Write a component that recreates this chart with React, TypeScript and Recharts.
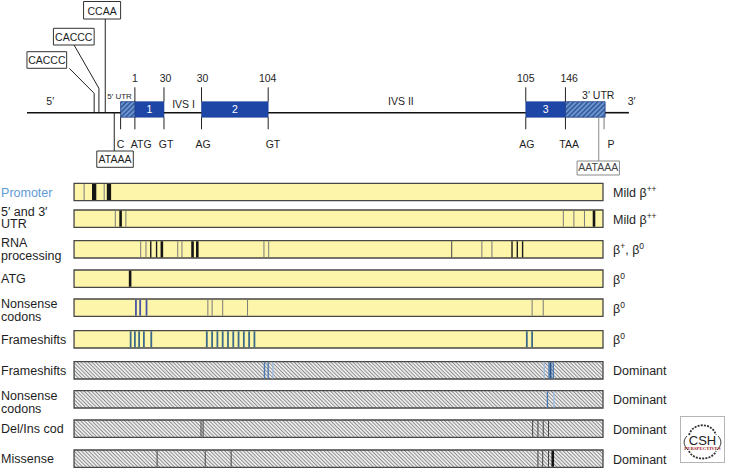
import React from 'react';
import { ComposedChart, XAxis, YAxis, ReferenceArea, ReferenceLine, ReferenceDot } from 'recharts';

// positions are in % of the gene span: 0 = left end of the bars, 100 = right end
const backbone = [[-8.9, 8.8], [17.0, 24.1], [36.7, 85.4], [100.4, 104.9]];
const exons = [
  { name: '1', from: 11.5, to: 17.0 },
  { name: '2', from: 24.1, to: 36.7 },
  { name: '3', from: 85.4, to: 92.9 },
];
const utrs = [
  { name: '5′ UTR', from: 8.8, to: 11.5, labelAt: 8.6, size: 8 },
  { name: '3′ UTR', from: 92.9, to: 100.4, labelAt: 99.1, size: 10.5 },
];
const codonTicks = [
  { pos: 8.8, top: '', topAt: 8.8, bottom: 'C', bottomAt: 8.8 },
  { pos: 11.5, top: '1', topAt: 11.5, bottom: 'ATG', bottomAt: 12.7 },
  { pos: 17.0, top: '30', topAt: 17.3, bottom: 'GT', bottomAt: 17.4 },
  { pos: 24.1, top: '30', topAt: 24.3, bottom: 'AG', bottomAt: 24.4 },
  { pos: 36.7, top: '104', topAt: 36.6, bottom: 'GT', bottomAt: 37.6 },
  { pos: 85.4, top: '105', topAt: 85.4, bottom: 'AG', bottomAt: 85.6 },
  { pos: 92.9, top: '146', topAt: 93.6, bottom: 'TAA', bottomAt: 93.6 },
  { pos: 100.2, top: '', topAt: 100.2, bottom: 'P', bottomAt: 101.5 },
];
const regionLabels = [
  { text: '5′', at: -4.5 },
  { text: 'IVS I', at: 20.7 },
  { text: 'IVS II', at: 61.8 },
  { text: '3′', at: 105.4 },
];
const motifs = [
  { text: 'CCAA', from: 1.8, to: 8.8, top: 1.5, bottom: 19, link: [[5.9, 19], [5.9, 112.7]] },
  { text: 'CACCC', from: -3.9, to: 3.8, top: 28.3, bottom: 45, link: [[0, 45], [4.7, 88.3], [4.7, 112.7]] },
  { text: 'CACCC', from: -8.9, to: -1.4, top: 51.7, bottom: 68.3, link: [[-0.9, 68.3], [3.8, 93.3], [3.8, 112.7]] },
  { text: 'ATAAA', from: 4.3, to: 11.2, top: 151, bottom: 167.3, link: [[7.6, 112.7], [7.6, 151]] },
  { text: 'AATAAA', from: 95.1, to: 103.1, top: 161, bottom: 175, link: [[99.2, 117], [99.2, 161]] },
];

const rowLabels = [
  ['Promoter'], ['5′ and 3′', 'UTR'], ['RNA', 'processing'], ['ATG'], ['Nonsense', 'codons'],
  ['Frameshifts'], ['Frameshifts'], ['Nonsense', 'codons'], ['Del/Ins cod'], ['Missense'],
];
const phenotypes = [
  'Mild β^++', 'Mild β^++', 'β^+, β^0', 'β^0', 'β^0', 'β^0', 'Dominant', 'Dominant', 'Dominant', 'Dominant',
];
const rowKind = ['rec', 'rec', 'rec', 'rec', 'rec', 'rec', 'dom', 'dom', 'dom', 'dom'];

// [position, mutation class]
const promoterMut = [[1.9, 'g'], [3.8, 'K'], [5.7, 'g'], [6.6, 'K']];
const utrMut = [[7.8, 'g'], [8.8, 'm'], [9.8, 'g'], [92.5, 'g'], [94.5, 'g'], [96.5, 'g'], [98.3, 'm']];
const rnaMut = [
  [12.6, 'g'], [13.6, 'g'], [14.5, 'k'], [15.6, 'k'], [16.6, 'm'], [19.6, 'g'], [20.4, 'g'],
  [22.4, 'm'], [23.3, 'm'], [35.9, 'g'], [36.8, 'g'], [71.4, 'd'], [77.1, 'g'], [79.0, 'g'],
  [82.8, 'k'], [83.8, 'k'], [84.8, 'k'],
];
const atgMut = [[10.6, 'm']];
const nonsenseMut = [
  [11.7, 'b'], [12.5, 'b'], [13.7, 'b'], [25.3, 'g'], [26.1, 'g'], [28.1, 'g'], [32.8, 'g'],
  [86.6, 'g'], [88.7, 'g'],
];
const frameshiftMut = [
  [10.7, 't'], [11.5, 't'], [12.3, 't'], [13.2, 't'], [14.6, 't'],
  [25.1, 't'], [26.1, 't'], [27.1, 't'], [28.1, 't'], [29.1, 't'], [30.1, 't'], [31.1, 't'],
  [32.1, 't'], [33.1, 't'], [34.1, 't'], [85.6, 't'], [86.6, 't'],
];
const domFrameshiftMut = [
  [36.0, 'sb'], [36.7, 'sb'], [37.6, 'lb'], [88.9, 'lb'], [89.8, 'sb'], [90.1, 'db'], [90.6, 'sb'],
];
const domNonsenseMut = [[89.5, 'sb'], [90.7, 'lb']];
const delInsMut = [[24.0, 'd'], [24.4, 'd'], [86.7, 'd'], [87.7, 'd'], [88.7, 'd'], [89.7, 'd']];
const missenseMut = [[15.7, 'd'], [24.8, 'd'], [29.7, 'd'], [87.7, 'd'], [88.6, 'd'], [89.7, 'd'], [90.5, 'm']];

const rowMutations = [
  promoterMut, utrMut, rnaMut, atgMut, nonsenseMut, frameshiftMut,
  domFrameshiftMut, domNonsenseMut, delInsMut, missenseMut,
];

// layout
const rowTops = [183.3, 210, 240.7, 270, 299, 330.7, 361.7, 390.7, 420, 450];
const ROW_H = 17.3;
const twoLineShift = [0, 5.5, 6, 0, 9, 0, 0, 9, 0, 0];
const FONT = '"Liberation Sans", Arial, Helvetica, sans-serif';
const INK = '#1e1e1e';

const mutStyle: Record<string, { stroke: string; w: number }> = {
  g: { stroke: '#7a7a7a', w: 1 },
  k: { stroke: '#1a1a1a', w: 1.4 },
  m: { stroke: '#151515', w: 2.6 },
  K: { stroke: '#151515', w: 4.3 },
  b: { stroke: '#4a52a6', w: 1.8 },
  t: { stroke: '#3a6a8a', w: 1.8 },
  lb: { stroke: '#9dbde0', w: 1.3 },
  sb: { stroke: '#4a7ab3', w: 1.4 },
  db: { stroke: '#27558f', w: 1.8 },
  d: { stroke: '#454545', w: 1 },
};

const txt = (
  key: string, x: number, y: number,
  content: (cx: number) => React.ReactNode,
  props: Record<string, any> = {},
) => (
  <ReferenceDot
    key={key} x={x} y={y} r={1} ifOverflow="visible"
    fill="none" stroke="none"
    shape={(p: any) => (
      <text x={p.cx} y={p.cy} fontFamily={FONT} fontSize={12.5} fill={INK} {...props}>
        {content(p.cx)}
      </text>
    )}
  />
);

const renderPheno = (s: string) =>
  s.split(/(\^[+0]+)/).filter(Boolean).map((part, i) =>
    part.startsWith('^') ? (
      <tspan key={i} fontSize={8.5} dy={-5}>{part.slice(1)}</tspan>
    ) : (
      <tspan key={i} dy={i > 0 ? 5 : 0}>{part}</tspan>
    ),
  );

const seg = (key: string, x1: number, y1: number, x2: number, y2: number, stroke: string, w: number) => (
  <ReferenceLine key={key} segment={[{ x: x1, y: y1 }, { x: x2, y: y2 }]} stroke={stroke} strokeWidth={w} ifOverflow="visible" />
);

function Logo() {
  return (
    <svg width={45} height={47} style={{ position: 'absolute', left: 680, top: 416 }}>
      <rect x={0.5} y={0.5} width={44} height={46} fill="#fff" stroke="#b5b5b5" />
      <path d="M9 19 C 13 6, 32 6, 36 19" fill="none" stroke="#333" strokeWidth={1.8} strokeDasharray="2 1.2" />
      <path d="M9 35 C 13 45, 32 45, 36 35" fill="none" stroke="#333" strokeWidth={1.8} strokeDasharray="2 1.2" />
      <path d="M7 20 C 3 24, 3 29, 8 34" fill="none" stroke="#333" strokeWidth={1} />
      <path d="M38 20 C 42 24, 42 29, 37 34" fill="none" stroke="#333" strokeWidth={1} />
      <text x={22.5} y={28.5} textAnchor="middle" fontFamily={FONT} fontSize={13} fill="#222">CSH</text>
      <text x={22.5} y={34} textAnchor="middle" fontFamily="'Liberation Serif', serif" fontWeight="bold" fontSize={4.8} fill="#a3262a">PERSPECTIVES</text>
    </svg>
  );
}

export default function App() {
  return (
    <div style={{ position: 'absolute', left: 0, top: 0, width: 731, height: 468, background: '#fff' }}>
      <ComposedChart width={731} height={468} margin={{ top: 0, right: 0, bottom: 0, left: 0 }}>
        <defs>
          <pattern id="greyHatch" patternUnits="userSpaceOnUse" width={2.6} height={2.6} patternTransform="rotate(-45)">
            <rect width={2.6} height={2.6} fill="#ebebeb" />
            <line x1={1.3} y1={0} x2={1.3} y2={2.6} stroke="#8a8a8a" strokeWidth={0.9} />
          </pattern>
          <pattern id="blueHatch" patternUnits="userSpaceOnUse" width={3.4} height={3.4} patternTransform="rotate(45)">
            <rect width={3.4} height={3.4} fill="#6b98d0" />
            <line x1={1.7} y1={0} x2={1.7} y2={3.4} stroke="#1f3d86" strokeWidth={1.1} />
          </pattern>
        </defs>
        <XAxis type="number" dataKey="x" domain={[-14, 124.2]} hide allowDataOverflow />
        <YAxis type="number" dataKey="y" domain={[0, 468]} reversed hide allowDataOverflow />

        {/* rows */}
        {rowTops.map((top, i) => (
          <ReferenceArea
            key={`row${i}`} x1={0} x2={100} y1={top} y2={top + ROW_H}
            fill={rowKind[i] === 'rec' ? '#fdf5a9' : 'url(#greyHatch)'} fillOpacity={1}
            stroke="#474747" strokeWidth={1.3} ifOverflow="visible"
          />
        ))}

        {/* gene exons and UTRs */}
        {exons.map((e) => (
          <ReferenceArea key={`ex${e.name}`} x1={e.from} x2={e.to} y1={101.7} y2={117.2}
            fill="#1d46a6" fillOpacity={1} stroke="#183c90" strokeWidth={0.6} ifOverflow="visible" />
        ))}
        {utrs.map((u) => (
          <ReferenceArea key={`utr${u.name}`} x1={u.from} x2={u.to} y1={101.7} y2={117.2}
            fill="url(#blueHatch)" fillOpacity={1} stroke="#1f3d86" strokeWidth={0.8} ifOverflow="visible" />
        ))}
        {motifs.map((m, i) => (
          <ReferenceArea key={`mbox${i}`} x1={m.from} x2={m.to} y1={m.top} y2={m.bottom}
            fill="#fff" fillOpacity={1} stroke={m.text === 'AATAAA' ? '#8a8a8a' : '#333'} strokeWidth={1}
            ifOverflow="visible" />
        ))}

        {/* backbone */}
        {backbone.map(([a, b], i) => seg(`bb${i}`, a, 112.7, b, 112.7, '#111', 1.6))}
        {codonTicks.map((t, i) => [
          t.top ? seg(`tt${i}`, t.pos, 87.3, t.pos, 101.7, '#222', 1) : null,
          seg(`tb${i}`, t.pos, 117.2, t.pos, 129.3, t.bottom === 'P' ? '#777' : '#222', 1),
        ])}
        {motifs.map((m, i) =>
          m.link.slice(1).map((pt, j) =>
            seg(`ml${i}-${j}`, m.link[j][0], m.link[j][1], pt[0], pt[1], m.text === 'AATAAA' ? '#8a8a8a' : '#222', 1),
          ),
        )}

        {/* mutations */}
        {rowMutations.map((muts, i) =>
          muts.map(([pos, cls], j) => {
            const st = mutStyle[cls as string];
            return seg(`mu${i}-${j}`, pos as number, rowTops[i] + 0.6, pos as number, rowTops[i] + ROW_H - 0.6, st.stroke, st.w);
          }),
        )}

        {/* gene text */}
        {codonTicks.map((t, i) => [
          t.top ? txt(`ct${i}`, t.topAt, 82, () => t.top, { fontSize: 10.5, textAnchor: 'middle' }) : null,
          txt(`cb${i}`, t.bottomAt, 148.3, () => t.bottom, { fontSize: 10.5, textAnchor: 'middle' }),
        ])}
        {regionLabels.map((r, i) => txt(`rl${i}`, r.at, r.text === 'IVS I' ? 108.3 : 105, () => r.text, { fontSize: 10.5, textAnchor: 'middle' }))}
        {utrs.map((u) => txt(`ul${u.name}`, u.labelAt, 99, () => u.name, { fontSize: u.size, textAnchor: 'middle' }))}
        {exons.map((e) => txt(`en${e.name}`, (e.from + e.to) / 2, 113, () => e.name, { fontSize: 10.5, textAnchor: 'middle', fill: '#fff' }))}
        {motifs.map((m, i) =>
          txt(`mt${i}`, (m.from + m.to) / 2, m.bottom - 4, () => m.text, {
            fontSize: 10.5, textAnchor: 'middle', fill: m.text === 'AATAAA' ? '#444' : INK,
          }),
        )}

        {/* row labels */}
        {rowLabels.map((lines, i) =>
          lines.length === 1
            ? txt(`lab${i}`, -13.8, rowTops[i] + 13.2, () => lines[0], { fill: i === 0 ? '#5e9ad4' : INK })
            : txt(`lab${i}`, -13.8, rowTops[i] + twoLineShift[i], (cx) => [
                <tspan key="a" x={cx}>{lines[0]}</tspan>,
                <tspan key="b" x={cx} dy={12.8}>{lines[1]}</tspan>,
              ]),
        )}
        {phenotypes.map((p, i) => txt(`ph${i}`, 101.9, rowTops[i] + 13.5, () => renderPheno(p)))}
      </ComposedChart>
      <Logo />
    </div>
  );
}
